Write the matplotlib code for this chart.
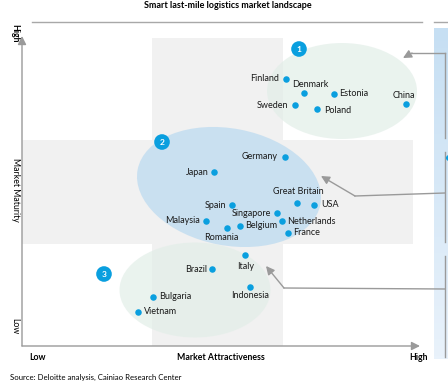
import numpy as np
import matplotlib.pyplot as plt
from matplotlib.patches import Ellipse, Circle, Rectangle, FancyArrowPatch
from matplotlib.colors import LinearSegmentedColormap

plt.rcParams['font.family'] = ['Lato', 'DejaVu Sans']

# scores 0-10
countries = ['Finland', 'Denmark', 'Estonia', 'China', 'Sweden', 'Poland',
             'Germany', 'Japan', 'Great Britain', 'USA', 'Spain', 'Singapore',
             'Malaysia', 'Netherlands', 'Belgium', 'Romania', 'France',
             'Italy', 'Brazil', 'Indonesia', 'Bulgaria', 'Vietnam']
attractiveness = [6.67, 7.13, 7.89, 9.70, 6.90, 7.46,
                  6.64, 4.86, 6.94, 7.37, 5.30, 6.43,
                  4.65, 6.56, 5.50, 5.17, 6.72,
                  5.63, 4.80, 5.77, 3.30, 2.94]
maturity = [8.65, 8.18, 8.16, 7.82, 7.79, 7.68,
            6.13, 5.63, 4.64, 4.57, 4.55, 4.29,
            4.06, 4.06, 3.89, 3.81, 3.67,
            2.94, 2.48, 1.92, 1.60, 1.11]

title = 'Smart last-mile logistics market landscape'
x_label = 'Market Attractiveness'
y_label = 'Market Maturity'
source = 'Source: Deloitte analysis, Cainiao Research Center'

# label placement: (ha, dx px, dy px)
placement = {
    'Finland': ('right', -7, 0), 'Denmark': ('left', -12, 9), 'Estonia': ('left', 5, 0),
    'China': ('center', -2, 9), 'Sweden': ('right', -7, 0), 'Poland': ('left', 7, -1.5),
    'Germany': ('right', -7, 0), 'Japan': ('right', -6, 0), 'Great Britain': ('center', 1, 11),
    'USA': ('left', 7, 0), 'Spain': ('right', -6, -0.5), 'Singapore': ('right', -6, 0),
    'Malaysia': ('right', -6, 0), 'Netherlands': ('left', 5, -1), 'Belgium': ('left', 5, 0),
    'Romania': ('center', -5, -9), 'France': ('left', 5, 0), 'Italy': ('center', 1, -11),
    'Brazil': ('right', -5, 0), 'Indonesia': ('center', 0, -9), 'Bulgaria': ('left', 6, 0),
    'Vietnam': ('left', 6, 0),
}

W, H = 448, 389
BLUE = '#0a9fdf'
GREY = '#9a9a9a'

fig = plt.figure(figsize=(W / 100, H / 100), dpi=100)

# background layer in pixel coordinates
bg = fig.add_axes([0, 0, 1, 1])
bg.set_xlim(0, W)
bg.set_ylim(H, 0)
bg.axis('off')

band = '#f1f1f1'
bg.add_patch(Rectangle((152, 38), 131, 308, color=band, lw=0, zorder=1))
bg.add_patch(Rectangle((22, 140), 391, 104, color=band, lw=0, zorder=1))

mint = '#e2eee8'
bg.add_patch(Ellipse((342, 91), 150, 96, color=mint, alpha=0.7, lw=0, zorder=2))
bg.add_patch(Ellipse((195, 290), 151, 95, color=mint, alpha=0.7, lw=0, zorder=2))
bg.add_patch(Ellipse((229, 187), 186, 117, angle=10.8, color='#b9d9f0', alpha=0.7, lw=0, zorder=2))

# right side panel
cmap = LinearSegmentedColormap.from_list('panel', ['#c6dff3', '#e9f2fb'])
bg.imshow(np.linspace(0, 1, 100).reshape(-1, 1), cmap=cmap, aspect='auto',
          extent=[434, 448, 359, 28], zorder=1)
for y0, y1 in [(53, 138), (152, 242), (256, 357)]:
    bg.plot([445, 445], [y0, y1], color=GREY, lw=1, zorder=3)
bg.add_patch(Circle((449, 158), 3, color=BLUE, lw=0, zorder=3))

# title rule
bg.plot([32, 422], [21.5, 21.5], color='#a8a8a8', lw=1)
bg.plot([434, 448], [21.5, 21.5], color='#a8a8a8', lw=1)

# axes arrows
arr = dict(arrowstyle='-|>,head_length=5,head_width=2.5', color=GREY, lw=1, shrinkA=0, shrinkB=0)
bg.add_patch(FancyArrowPatch((22, 346), (22, 36), **arr, zorder=4))
bg.add_patch(FancyArrowPatch((22, 346), (420, 346), **arr, zorder=4))

# callout arrows
for path in [[(445, 53), (412, 53), (403, 58)],
             [(445, 193), (355, 196), (321, 176)],
             [(445, 289), (284, 288), (266, 266)]]:
    xs, ys = zip(*path[:-1])
    bg.plot(xs, ys, color=GREY, lw=1, zorder=4)
    bg.add_patch(FancyArrowPatch(path[-2], path[-1], **arr, zorder=4))

# numbered badges
for n, (bx, by) in zip(['1', '2', '3'], [(299, 49), (162, 142), (104, 274)]):
    bg.add_patch(Circle((bx, by), 7.8, color=BLUE, lw=0, zorder=5))
    bg.text(bx, by + 0.5, n, color='white', fontsize=6, fontweight='bold',
            ha='center', va='center', zorder=6)

# text
bg.text(228, 5.5, title, fontsize=6.5, fontweight='bold', ha='center', va='center')
bg.text(15, 190, y_label, fontsize=6.3, rotation=270, ha='center', va='center')
bg.text(15, 33, 'High', fontsize=6.3, fontweight='bold', rotation=270, ha='center', va='center')
bg.text(15, 326, 'Low', fontsize=6.3, rotation=270, ha='center', va='center')
bg.text(37, 357, 'Low', fontsize=6.3, fontweight='bold', ha='center', va='center')
bg.text(221, 357, x_label, fontsize=6.3, fontweight='bold', ha='center', va='center')
bg.text(418, 357, 'High', fontsize=6.3, fontweight='bold', ha='center', va='center')
bg.text(10, 377, source, fontsize=5.6, ha='left', va='center')

# data layer
ax = fig.add_axes([22 / W, (H - 346) / H, 396 / W, 309 / H])
ax.patch.set_alpha(0)
ax.set_xlim(0, 10)
ax.set_ylim(0, 10)
ax.axis('off')
ax.scatter(attractiveness, maturity, s=22, color=BLUE, lw=0, zorder=5)
for name, xv, yv in zip(countries, attractiveness, maturity):
    ha, dx, dy = placement[name]
    ax.annotate(name, (xv, yv), xytext=(dx, dy), textcoords='offset pixels',
                ha=ha, va='center', fontsize=6.5, color='#1a1a1a', zorder=6)

fig.savefig('out.png', dpi=100)
